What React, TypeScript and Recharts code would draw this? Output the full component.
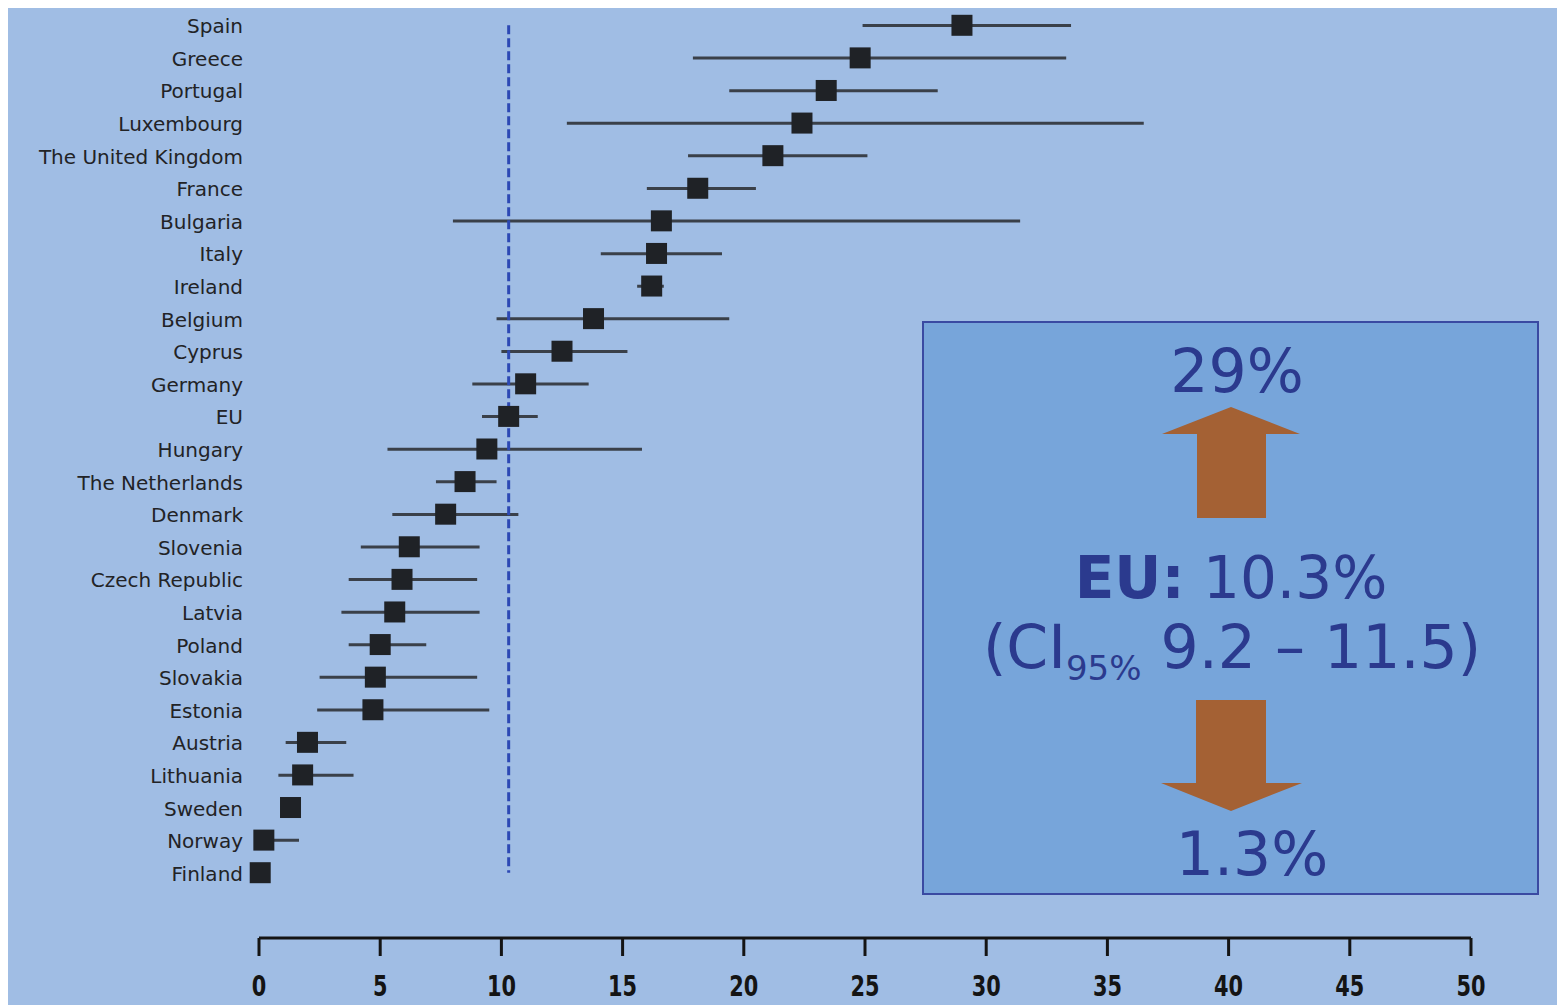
import { ComposedChart, Bar, Scatter, XAxis, YAxis, ReferenceLine } from "recharts";

const countries = [
  "Spain", "Greece", "Portugal", "Luxembourg", "The United Kingdom", "France", "Bulgaria",
  "Italy", "Ireland", "Belgium", "Cyprus", "Germany", "EU", "Hungary", "The Netherlands",
  "Denmark", "Slovenia", "Czech Republic", "Latvia", "Poland", "Slovakia", "Estonia",
  "Austria", "Lithuania", "Sweden", "Norway", "Finland",
];
const rates = [
  29.0, 24.8, 23.4, 22.4, 21.2, 18.1, 16.6, 16.4, 16.2, 13.8, 12.5, 11.0, 10.3, 9.4, 8.5,
  7.7, 6.2, 5.9, 5.6, 5.0, 4.8, 4.7, 2.0, 1.8, 1.3, 0.2, 0.05,
];
const ciLow = [
  24.9, 17.9, 19.4, 12.7, 17.7, 16.0, 8.0, 14.1, 15.6, 9.8, 10.0, 8.8, 9.2, 5.3, 7.3,
  5.5, 4.2, 3.7, 3.4, 3.7, 2.5, 2.4, 1.1, 0.8, null, 0.2, null,
];
const ciHigh = [
  33.5, 33.3, 28.0, 36.5, 25.1, 20.5, 31.4, 19.1, 16.7, 19.4, 15.2, 13.6, 11.5, 15.8, 9.8,
  10.7, 9.1, 9.0, 9.1, 6.9, 9.0, 9.5, 3.6, 3.9, null, 1.65, null,
];
const xTicks = [0, 5, 10, 15, 20, 25, 30, 35, 40, 45, 50];
const euRate = 10.3;

const data = countries.map((name, i) => ({
  name,
  value: rates[i],
  ci: ciLow[i] == null ? null : [ciLow[i], ciHigh[i]],
}));

const Square = (props: any) => {
  const { cx, cy } = props;
  if (cx == null || cy == null) return null;
  return <rect x={cx - 10.5} y={cy - 10.5} width={21} height={21} fill="#1f2226" />;
};

const CountryTick = ({ x, y, payload }: any) => (
  <text x={x} y={y} dy={8} textAnchor="end" fontFamily="DejaVu Sans" fontSize={20} fill="#222326">
    {payload.value}
  </text>
);

// narrow, tall digits like the original's condensed face
const ValueTick = ({ x, y, payload }: any) => (
  <g transform={`translate(${x},${y}) scale(0.72,1)`}>
    <text
      x={0}
      y={40}
      textAnchor="middle"
      fontFamily="DejaVu Sans"
      fontWeight="bold"
      fontSize={29}
      fill="#141414"
    >
      {payload.value}
    </text>
  </g>
);

function InfoBox() {
  const txt = "#2b3a8e";
  const arrow = "#a46134";
  return (
    <svg width={617} height={574} style={{ position: "absolute", left: 914, top: 316 }}>
      <rect x={1} y={1} width={615} height={572} fill="#77a5da" stroke="#3a4aa2" strokeWidth={2} />
      <text x={315} y={71} textAnchor="middle" fontFamily="DejaVu Sans" fontSize={60} fill={txt}>29%</text>
      <polygon points="309,86 378,113 344,113 344,197 275,197 275,113 240,113" fill={arrow} />
      <text x={309} y={277} textAnchor="middle" fontFamily="DejaVu Sans" fontSize={58} fill={txt}>
        <tspan fontWeight="bold">EU:</tspan> 10.3%
      </text>
      <text x={310} y={347} textAnchor="middle" fontFamily="DejaVu Sans" fontSize={60} fill={txt}>
        (CI<tspan fontSize={34} dy={12}>95%</tspan><tspan dy={-12}> 9.2 – 11.5)</tspan>
      </text>
      <polygon points="274,379 344,379 344,462 380,462 309,490 239,462 274,462" fill={arrow} />
      <text x={330} y={554} textAnchor="middle" fontFamily="DejaVu Sans" fontSize={60} fill={txt}>1.3%</text>
    </svg>
  );
}

export default function App() {
  return (
    <div style={{ position: "relative", top: -3, width: 1557, height: 1000, background: "#a0bde4" }}>
      <ComposedChart
        width={1557}
        height={1000}
        layout="vertical"
        data={data}
        margin={{ top: 4, right: 94, bottom: 0, left: 0 }}
      >
        <XAxis
          type="number"
          domain={[0, 50]}
          ticks={xTicks}
          interval={0}
          height={67}
          axisLine={{ stroke: "#141414", strokeWidth: 3 }}
          tickLine={{ stroke: "#141414", strokeWidth: 3 }}
          tickSize={18}
          tickMargin={0}
          tick={<ValueTick />}
        />
        <YAxis
          type="category"
          dataKey="name"
          width={251}
          interval={0}
          axisLine={false}
          tickLine={false}
          tickSize={0}
          tickMargin={16}
          padding={{ top: 0, bottom: 49 }}
          tick={<CountryTick />}
        />
        <Bar dataKey="ci" barSize={3} fill="#3a4049" isAnimationActive={false} />
        <Scatter dataKey="value" shape={<Square />} isAnimationActive={false} />
        <ReferenceLine
          segment={[{ x: euRate, y: "Spain" }, { x: euRate, y: "Finland" }]}
          stroke="#2c48b4"
          strokeWidth={3}
          strokeDasharray="9 4"
        />
      </ComposedChart>
      <InfoBox />
    </div>
  );
}
